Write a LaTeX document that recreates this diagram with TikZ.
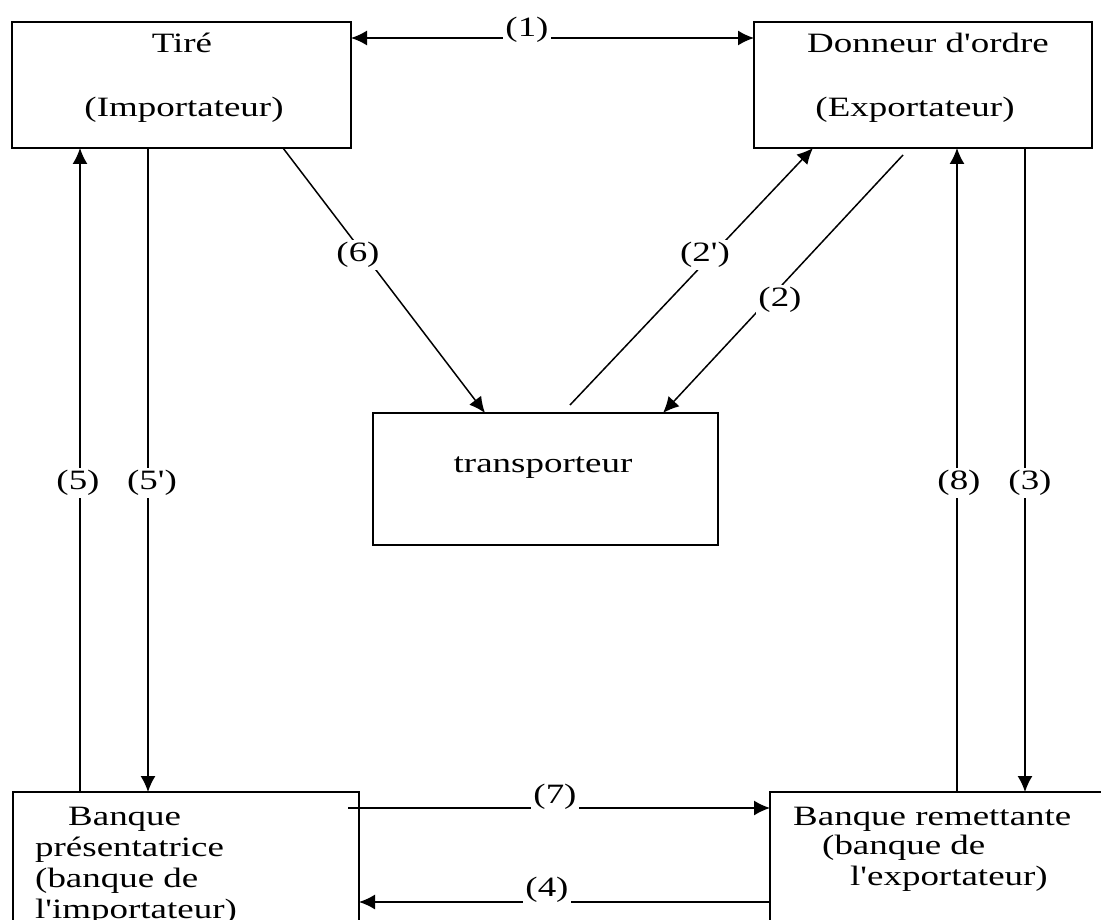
\documentclass[tikz,border=0pt]{standalone}
\usepackage{fontspec}
\setmainfont{Liberation Serif}[FakeStretch=1.32, Ligatures=TeXOff]
\usetikzlibrary{arrows.meta,calc}
\begin{document}
\begin{tikzpicture}[x=1pt,y=-1pt,
  >={Latex[length=16pt,width=15pt]},
  box/.style={draw, line width=1.6pt, rectangle, anchor=north west, inner sep=0pt, outer sep=0pt},
  txt/.style={inner sep=0pt, font=\fontsize{28}{31}\selectfont},
  lbl/.style={fill=white, inner sep=2pt, font=\fontsize{28}{31}\selectfont},
  flow/.style={line width=1.5pt, ->},
  ]
\clip (0,0) rectangle (1101,920);
\fill[white] (0,0) rectangle (1101,920);

% boxes
\node[box, minimum width=339pt, minimum height=126pt] (tire) at (12,22) {};
\node[box, minimum width=338pt, minimum height=126pt] (donneur) at (754,22) {};
\node[box, minimum width=345pt, minimum height=132pt] (transp) at (373,413) {};
\node[box, minimum width=346pt, minimum height=190pt] (bp) at (13,792) {};
\node[box, minimum width=380pt, minimum height=190pt] (br) at (770,792) {};

% box texts
\node[txt, anchor=base] (tireA) at (182,53) {Tiré};
\node[txt, anchor=base] (tireB) at (184,117) {(Importateur)};
\node[txt, anchor=base] (donA) at (928,53) {Donneur d'ordre};
\node[txt, anchor=base] (donB) at (915,117) {(Exportateur)};
\node[txt, anchor=base] (trA) at (543,472) {transporteur};
\node[txt, anchor=base west] (bpA) at (68,825) {Banque};
\node[txt, anchor=base west] (bpB) at (35,856) {présentatrice};
\node[txt, anchor=base west] (bpC) at (35,887) {(banque de};
\node[txt, anchor=base west] (bpD) at (35,918) {l'importateur)};
\node[txt, anchor=base west] (brA) at (793,825) {Banque remettante};
\node[txt, anchor=base west] (brB) at (822,854) {(banque de};
\node[txt, anchor=base west] (brC) at (850,885) {l'exportateur)};

% reference lines for the connectors
\coordinate (h1) at (0,38);
\coordinate (h7) at (0,808);
\coordinate (h4) at (0,902);
\coordinate (v5) at (80,0);
\coordinate (v5p) at (148,0);
\coordinate (v8) at (957,0);
\coordinate (v3) at (1025,0);
\coordinate (d6a) at (283,0);
\coordinate (d6b) at (485,0);
\coordinate (d2pa) at (570,0);
\coordinate (d2pb) at (813,0);
\coordinate (d2a) at (903,0);
\coordinate (d2b) at (663,0);

% connectors
\draw[flow, <->] (tire.east |- h1) -- (donneur.west |- h1);
\draw[flow] (bp.north -| v5) -- (tire.south -| v5);
\draw[flow] (tire.south -| v5p) -- (bp.north -| v5p);
\draw[flow] (br.north -| v8) -- (donneur.south -| v8);
\draw[flow] (donneur.south -| v3) -- (br.north -| v3);
\draw[flow] (tire.south -| d6a) -- (transp.north -| d6b);
\draw[flow] ($(transp.north -| d2pa)+(0,-8)$) -- (donneur.south -| d2pb);
\draw[flow] ($(donneur.south -| d2a)+(0,7)$) -- (transp.north -| d2b);
\draw[flow] ($(bp.east |- h7)+(-11,0)$) -- (br.west |- h7);
\draw[flow] (br.west |- h4) -- (bp.east |- h4);

% step labels
\node[lbl, anchor=base] (l1) at (527,37) {(1)};
\node[lbl] (l6) at (358,255) {(6)};
\node[lbl] (l2p) at (705,255) {(2')};
\node[lbl] (l2) at (780,300) {(2)};
\node[lbl] (l5) at (78,483) {(5)};
\node[lbl] (l5p) at (152,483) {(5')};
\node[lbl] (l8) at (959,483) {(8)};
\node[lbl] (l3) at (1030,483) {(3)};
\node[lbl, anchor=base] (l7) at (555,803) {(7)};
\node[lbl, anchor=base] (l4) at (547,896) {(4)};
\end{tikzpicture}
\end{document}
